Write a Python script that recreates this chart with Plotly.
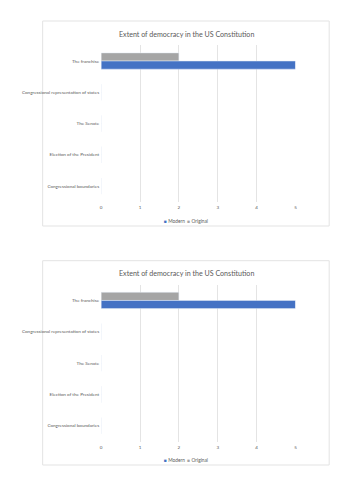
import plotly.graph_objects as go

categories = ["The franchise", "Congressional representation of states", "The Senate",
              "Election of the President", "Congressional boundaries"]
modern = [5, 0, 0, 0, 0]
original = [2, 0, 0, 0, 0]
x_ticks = [0, 1, 2, 3, 4, 5]
title_text = "Extent of democracy in the US Constitution"
series_names = ["Modern", "Original"]

W, H = 353, 500
FONT = "Lato"
TXT = "#595959"
GRID = "#E4E4E4"
BLUE = "#4472C4"
GRAY = "#A5A5A5"

def px(x):
    return x / W

def py(y):
    return 1 - y / H

fig = go.Figure()

# chart panels: (box_top, box_bottom, plot_top, plot_bottom, title_y, legend_y)
panels = [
    (21, 226, 45.4, 201.7, 34, 221),
    (260.7, 465, 284.8, 441.5, 273.5, 460.3),
]

for i, (bt, bb, pt, pb, ty, ly) in enumerate(panels):
    sfx = "" if i == 0 else str(i + 1)
    fig.add_trace(go.Bar(y=categories, x=original, orientation="h", name=series_names[1],
                         marker_color=GRAY, xaxis="x" + sfx, yaxis="y" + sfx,
                         showlegend=False, hoverinfo="skip"))
    fig.add_trace(go.Bar(y=categories, x=modern, orientation="h", name=series_names[0],
                         marker_color=BLUE, xaxis="x" + sfx, yaxis="y" + sfx,
                         showlegend=False, hoverinfo="skip"))
    xa = dict(domain=[px(101), px(297)], range=[0, 5], tickvals=x_ticks,
              showgrid=True, gridcolor=GRID, gridwidth=1, zeroline=False,
              showline=False, ticks="", tickfont=dict(family=FONT, size=4.6, color=TXT),
              anchor="y" + sfx, fixedrange=True, ticklabelstandoff=2)
    ya = dict(domain=[py(pb), py(pt)], categoryorder="array", categoryarray=categories,
              autorange="reversed", showgrid=False, zeroline=False,
              showline=False, ticks="", tickfont=dict(family=FONT, size=4.6, color=TXT),
              anchor="x" + sfx, fixedrange=True, ticklabelstandoff=1)
    fig.update_layout(**{"xaxis" + sfx: xa, "yaxis" + sfx: ya})
    fig.add_shape(type="rect", xref="paper", yref="paper",
                  x0=px(42), x1=px(331), y0=py(bb), y1=py(bt),
                  line=dict(color="#E3E3E3", width=1), fillcolor="rgba(0,0,0,0)", layer="below")
    fig.add_annotation(text=title_text, xref="paper", yref="paper", x=px(187), y=py(ty),
                       xanchor="center", yanchor="middle", showarrow=False,
                       font=dict(family=FONT, size=7.1, color=TXT))
    legend_html = (f'<span style="color:{BLUE}">■</span> {series_names[0]}  '
                   f'<span style="color:{GRAY}">■</span> {series_names[1]}')
    fig.add_annotation(text=legend_html, xref="paper", yref="paper", x=px(187), y=py(ly),
                       xanchor="center", yanchor="middle", showarrow=False,
                       font=dict(family=FONT, size=4.8, color=TXT))

fig.update_layout(
    width=W, height=H,
    margin=dict(l=0, r=0, t=0, b=0),
    paper_bgcolor="white", plot_bgcolor="white",
    barmode="group", bargap=0.48, bargroupgap=0,
    showlegend=False,
)

fig.write_html("out.html")
